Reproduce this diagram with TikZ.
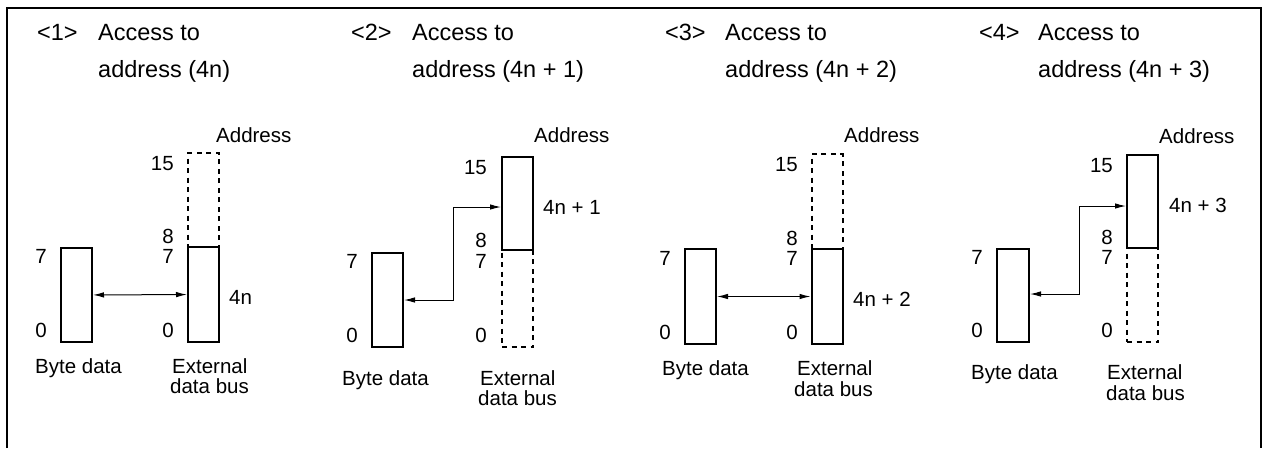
\documentclass[tikz,border=0pt]{standalone}
\usepackage{fontspec}
\setmainfont{Liberation Sans}
\usetikzlibrary{arrows.meta,calc}
\begin{document}
\begin{tikzpicture}[x=1pt,y=-1pt,
  box/.style={draw, line width=2pt, minimum width=31pt, minimum height=94pt, inner sep=0pt},
  dbox/.style={box, dash pattern=on 5pt off 4.5pt},
  lbl/.style={font=\fontsize{20.5}{24}\selectfont, inner sep=0pt},
  ttl/.style={font=\fontsize{23.5}{28}\selectfont, inner sep=0pt, anchor=base west},
  num/.style={lbl, anchor=base east},
  conn/.style={line width=1pt, {Latex[length=11pt,width=5.5pt]}-{Latex[length=11pt,width=5.5pt]}}]
\useasboundingbox (0,0) rectangle (1262,448);
\draw[line width=2pt] (7,448) -- (7,8) -- (1261,8) -- (1261,448);

% ---------- Panel 1 ----------
\node[ttl] (t1a) at (37,40) {<1>};
\node[ttl] (t1b) at (98,40) {Access to};
\node[ttl] (t1c) at (98,77) {address (4n)};
\node[dbox] (d1) at (203.5,200) {};
\node[box, minimum height=95pt] (e1) at (203.5,294.5) {};
\node[box] (b1) at (76.5,295) {};
\node[lbl, anchor=base west] (a1) at (216,142) {Address};
\node[num] (n1a) at (174,170) {15};
\node[num] (n1b) at (174,243) {8};
\node[num] (n1c) at (174,263) {7};
\node[num] (n1d) at (174,337) {0};
\node[num] (n1e) at (47,263) {7};
\node[num] (n1f) at (47,337) {0};
\node[lbl, anchor=base west] (v1) at (229,304) {4n};
\node[lbl, anchor=base west] (bd1) at (35,373) {Byte data};
\node[lbl, anchor=base west] (x1a) at (172,373) {External};
\node[lbl, anchor=base west] (x1b) at (170,393) {data bus};
\draw[conn] (b1) -- (e1);

% ---------- Panel 2 ----------
\node[ttl] (t2a) at (351,40) {<2>};
\node[ttl] (t2b) at (412,40) {Access to};
\node[ttl] (t2c) at (412,77) {address (4n + 1)};
\node[dbox, minimum height=97pt] (d2) at (517.5,298.5) {};
\node[box, minimum height=93pt] (e2) at (517.5,203.5) {};
\node[box] (b2) at (387.5,300) {};
\node[lbl, anchor=base west] (a2) at (534,142) {Address};
\node[num] (n2a) at (487,174) {15};
\node[num] (n2b) at (487,247) {8};
\node[num] (n2c) at (487,268) {7};
\node[num] (n2d) at (487,342) {0};
\node[num] (n2e) at (358,268) {7};
\node[num] (n2f) at (358,342) {0};
\node[lbl, anchor=base west] (v2) at (543,214) {4n + 1};
\node[lbl, anchor=base west] (bd2) at (342,385) {Byte data};
\node[lbl, anchor=base west] (x2a) at (480,385) {External};
\node[lbl, anchor=base west] (x2b) at (478,405) {data bus};
\coordinate (k2) at (453,207);
\draw[conn] (b2.east) -| (k2) -- (e2.west |- k2);

% ---------- Panel 3 ----------
\node[ttl] (t3a) at (665,40) {<3>};
\node[ttl] (t3b) at (725,40) {Access to};
\node[ttl] (t3c) at (725,77) {address (4n + 2)};
\node[dbox, minimum height=95pt] (d3) at (827,201.5) {};
\node[box, minimum height=95pt] (e3) at (827,296.5) {};
\node[box, minimum height=95pt] (b3) at (700.5,296.5) {};
\node[lbl, anchor=base west] (a3) at (844,142) {Address};
\node[num] (n3a) at (798,171) {15};
\node[num] (n3b) at (798,245) {8};
\node[num] (n3c) at (798,265) {7};
\node[num] (n3d) at (798,339) {0};
\node[num] (n3e) at (671,265) {7};
\node[num] (n3f) at (671,339) {0};
\node[lbl, anchor=base west] (v3) at (853,306) {4n + 2};
\node[lbl, anchor=base west] (bd3) at (662,375) {Byte data};
\node[lbl, anchor=base west] (x3a) at (797,375) {External};
\node[lbl, anchor=base west] (x3b) at (794,396) {data bus};
\draw[conn] (b3) -- (e3);

% ---------- Panel 4 ----------
\node[ttl] (t4a) at (979,40) {<4>};
\node[ttl] (t4b) at (1038,40) {Access to};
\node[ttl] (t4c) at (1038,77) {address (4n + 3)};
\node[dbox] (d4) at (1142.5,295) {};
\node[box, minimum height=93pt] (e4) at (1142.5,201.5) {};
\node[box, minimum height=93pt, minimum width=32pt] (b4) at (1013,295.5) {};
\node[lbl, anchor=base west] (a4) at (1159,143) {Address};
\node[num] (n4a) at (1113,172) {15};
\node[num] (n4b) at (1113,244) {8};
\node[num] (n4c) at (1113,264) {7};
\node[num] (n4d) at (1113,337) {0};
\node[num] (n4e) at (983,264) {7};
\node[num] (n4f) at (983,337) {0};
\node[lbl, anchor=base west] (v4) at (1169,212) {4n + 3};
\node[lbl, anchor=base west] (bd4) at (971,379) {Byte data};
\node[lbl, anchor=base west] (x4a) at (1107,379) {External};
\node[lbl, anchor=base west] (x4b) at (1106,400) {data bus};
\coordinate (k4) at (1079,206);
\draw[conn] (b4.east |- 0,294) -| (k4) -- (e4.west |- k4);
\end{tikzpicture}
\end{document}
